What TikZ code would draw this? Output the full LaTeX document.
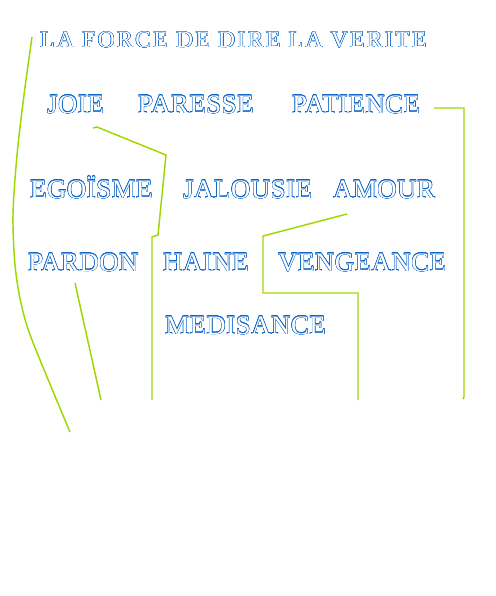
\documentclass[tikz,border=0pt]{standalone}
\usepackage{fontspec}
\setmainfont{Liberation Serif}
\newfontfamily\titlefont{Liberation Serif}[LetterSpace=10.5]
\newfontfamily\wordfont{Liberation Serif}[LetterSpace=2.3]
\usepackage{contour}
\contourlength{0.3pt}
\definecolor{lineg}{RGB}{160,215,0}
\definecolor{outl}{RGB}{10,100,200}
\begin{document}
\begin{tikzpicture}[x=0.75pt,y=-0.75pt,
  word/.style={anchor=base west, inner sep=0pt, font=\wordfont\fontsize{20}{24}\selectfont, text=white},
  titleword/.style={anchor=base west, inner sep=0pt, font=\titlefont\fontsize{17.6}{21}\selectfont, text=white},
  link/.style={draw=lineg, line width=1.1pt, line join=miter}]
\useasboundingbox (0,0) rectangle (496,596);
\node[titleword] (titre) at (40,47.5) {\contour{outl}{LA FORCE DE DIRE LA VERITE}};
\node[word] (joie) at (47,113) {\contour{outl}{JOIE}};
\node[word] (paresse) at (138,113) {\contour{outl}{PARESSE}};
\node[word] (patience) at (292,113) {\contour{outl}{PATIENCE}};
\node[word] (egoisme) at (30,198) {\contour{outl}{EGOÏSME}};
\node[word] (jalousie) at (183,198) {\contour{outl}{JALOUSIE}};
\node[word] (amour) at (333,198) {\contour{outl}{AMOUR}};
\node[word] (pardon) at (28,271) {\contour{outl}{PARDON}};
\node[word] (haine) at (163,271) {\contour{outl}{HAINE}};
\node[word] (vengeance) at (278,271) {\contour{outl}{VENGEANCE}};
\node[word] (medisance) at (165,334) {\contour{outl}{MEDISANCE}};
% connector end points
\coordinate (c1a) at (32,37);
\coordinate (c1b) at (70,432);
\coordinate (c2a) at (93,128);
\coordinate (c2b) at (152,400);
\coordinate (c3a) at (434,108);
\coordinate (c3b) at (463,399);
\coordinate (c4a) at (347,214);
\coordinate (c4b) at (358,400);
\coordinate (c5a) at (75,283);
\coordinate (c5b) at (101,400);
\draw[link] plot[smooth, tension=0.5] coordinates {(c1a) (24,95) (17,155) (13,215) (15,265) (21,303) (32,340) (c1b)};
\draw[link] (c2a) -- (97,127) -- (166,155) -- (158,235) -- (152,237) -- (c2b);
\draw[link] (c3a) -- (464,108) -- (464,397) -- (c3b);
\draw[link] (c4a) -- (263,236) -- (263,293) -- (358,293) -- (c4b);
\draw[link] (c5a) -- (c5b);
\end{tikzpicture}
\end{document}
